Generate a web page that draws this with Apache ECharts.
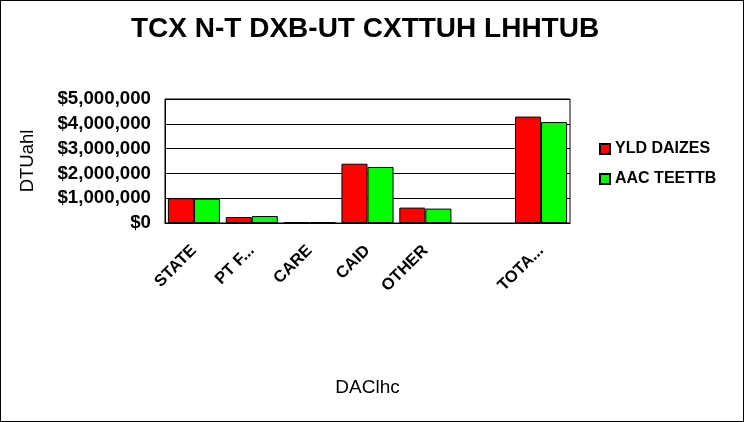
<!DOCTYPE html>
<html><head><meta charset="utf-8">
<script src="https://cdn.jsdelivr.net/npm/echarts@6/dist/echarts.min.js"></script>
<style>
html,body{margin:0;padding:0;background:#fff;}
#c{width:744px;height:422px;box-sizing:border-box;border:1px solid #000;}
</style></head><body>
<div id="c"></div>
<script>
var categories = ["STATE", "PT F...", "CARE", "CAID", "OTHER", "", "TOTA..."];
var seriesNames = ["YLD DAIZES", "AAC TEETTB"];
var redValues = [1000000, 240000, 40000, 2390000, 620000, null, 4290000];
var greenValues = [980000, 280000, 40000, 2260000, 580000, null, 4070000];
var yTicks = [0, 1000000, 2000000, 3000000, 4000000, 5000000];

var FONT = '"Liberation Sans", Arial, sans-serif';
var chart = echarts.init(document.getElementById('c'));
function money(v){ return '$' + String(v).replace(/\B(?=(\d{3})+(?!\d))/g, ','); }
chart.setOption({
  animation: false,
  backgroundColor: '#fff',
  title: {
    text: 'TCX N-T DXB-UT CXTTUH LHHTUB',
    left: 130, top: 14, padding: 0,
    textStyle: {fontFamily: FONT, fontSize: 28, fontWeight: 'bold', color: '#000'}
  },
  legend: {
    orient: 'vertical', left: 598, top: 140, padding: 0,
    itemWidth: 10, itemHeight: 10, itemGap: 14,
    icon: 'rect',
    textStyle: {fontFamily: FONT, fontSize: 16, lineHeight: 16, fontWeight: 'bold', color: '#000'},
    data: seriesNames
  },
  grid: {left: 164, top: 98, width: 405, height: 124, show: true, borderColor: '#000', borderWidth: 1, backgroundColor: '#fff'},
  xAxis: {
    type: 'category', data: categories,
    name: 'DAClhc', nameLocation: 'middle', nameGap: 155,
    nameTextStyle: {fontFamily: FONT, fontSize: 19, color: '#000'},
    axisLine: {lineStyle: {color: '#000'}},
    axisTick: {show: false},
    axisLabel: {interval: 0, rotate: 45, margin: 25, fontFamily: FONT, fontSize: 16.5, fontWeight: 'bold', color: '#000'}
  },
  yAxis: {
    type: 'value', min: yTicks[0], max: yTicks[yTicks.length-1], interval: 1000000,
    name: 'DTUahl', nameLocation: 'middle', nameGap: 128, nameRotate: 90,
    nameTextStyle: {fontFamily: FONT, fontSize: 18.5, color: '#000'},
    axisLine: {show: true, lineStyle: {color: '#000'}},
    axisTick: {show: false},
    splitLine: {show: true, lineStyle: {color: '#000', width: 1}},
    axisLabel: {margin: 14, formatter: money, fontFamily: FONT, fontSize: 18.7, fontWeight: 'bold', color: '#000'}
  },
  series: [
    {name: seriesNames[0], type: 'bar', data: redValues, barGap: '0%', barCategoryGap: '10%',
     itemStyle: {color: '#ff0000', borderColor: '#000', borderWidth: 1}},
    {name: seriesNames[1], type: 'bar', data: greenValues,
     itemStyle: {color: '#00ff00', borderColor: '#000', borderWidth: 1}}
  ]
});
</script>
</body></html>
